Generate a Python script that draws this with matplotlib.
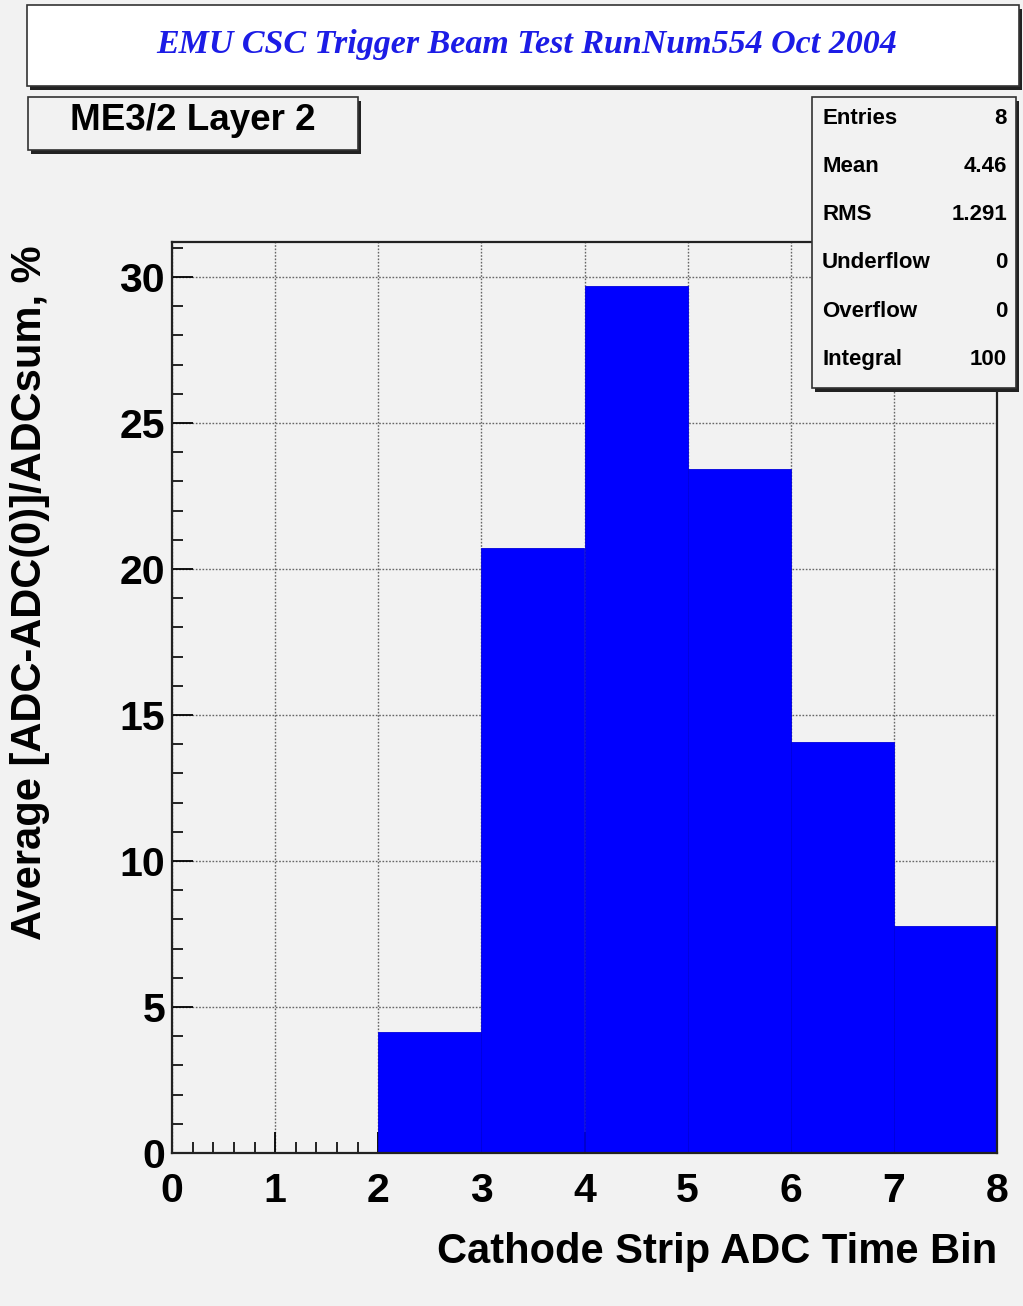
import matplotlib
matplotlib.use('Agg')
import matplotlib.pyplot as plt
from matplotlib.patches import Rectangle
from matplotlib.ticker import MultipleLocator
import numpy as np

# data
bin_edges = [0, 1, 2, 3, 4, 5, 6, 7]
bin_values = [0.0, 0.0, 4.14, 20.72, 29.70, 23.42, 14.08, 7.77]
stat_names = ['Entries', 'Mean', 'RMS', 'Underflow', 'Overflow', 'Integral']
stat_values = ['8', '4.46', '1.291', '0', '0', '100']

title = 'EMU CSC Trigger Beam Test RunNum554 Oct 2004'
pad_label = 'ME3/2 Layer 2'
xlabel = 'Cathode Strip ADC Time Bin'
ylabel = 'Average [ADC-ADC(0)]/ADCsum, %'

W, H = 1023, 1306
bg = '#f2f2f2'
sans = 'Liberation Sans'

fig = plt.figure(figsize=(W / 100, H / 100), dpi=100, facecolor=bg)


def px(x0, y0, x1, y1):
    # pixel box -> figure fraction (left, bottom, width, height)
    return x0 / W, 1 - y1 / H, (x1 - x0) / W, (y1 - y0) / H


def box(x0, y0, x1, y1, face):
    l, b, w, h = px(x0, y0, x1, y1)
    sh = Rectangle((l + 3 / W, b - 4 / H), w, h, transform=fig.transFigure,
                   facecolor='#222222', edgecolor='none', zorder=5)
    fr = Rectangle((l, b), w, h, transform=fig.transFigure,
                   facecolor=face, edgecolor='#333333', lw=1.2, zorder=6)
    fig.add_artist(sh)
    fig.add_artist(fr)


ax = fig.add_axes(px(172, 242, 997, 1153))
ax.set_facecolor(bg)

ax.bar(bin_edges, bin_values, width=1, align='edge', color='#0000ff',
       edgecolor='#0000dd', linewidth=0.6, zorder=2)

ax.set_xlim(0, 8)
ax.set_ylim(0, 31.2)
ax.xaxis.set_major_locator(MultipleLocator(1))
ax.xaxis.set_minor_locator(MultipleLocator(0.2))
ax.yaxis.set_major_locator(MultipleLocator(5))
ax.yaxis.set_minor_locator(MultipleLocator(1))
ax.set_axisbelow(True)
ax.grid(True, which='major', color='#666666', linestyle=(0, (1.2, 1.2)), linewidth=1.0)

ax.tick_params(which='major', direction='in', length=15, width=1.3,
               top=False, right=False, labelsize=29.5)
ax.tick_params(which='minor', direction='in', length=8, width=1.2,
               top=False, right=False)
ax.tick_params(axis='x', which='major', pad=14)
ax.tick_params(axis='y', which='major', pad=5)
for lab in ax.get_xticklabels() + ax.get_yticklabels():
    lab.set_fontfamily(sans)
    lab.set_fontweight('bold')
for sp in ax.spines.values():
    sp.set_linewidth(1.6)
    sp.set_color('#222222')

fig.text(997 / W, 1 - 1252 / H, xlabel, ha='right', va='center',
         fontsize=30, fontweight='bold', family=sans)
fig.text(30 / W, 1 - 593 / H, ylabel, ha='center', va='center', rotation=90,
         fontsize=30, fontweight='bold', family=sans)

# title box
box(27, 5, 1019, 86, 'white')
fig.text(527 / W, 1 - 44 / H, title, ha='center', va='center', fontsize=24.5,
         fontweight='bold', fontstyle='italic', family='Liberation Serif',
         color='#1c1ce6', zorder=7)

# pad label box
box(28, 97, 358, 150, bg)
fig.text(193 / W, 1 - 120 / H, pad_label, ha='center', va='center',
         fontsize=26.5, fontweight='bold', family=sans, zorder=7)

# stats box
box(812, 97, 1016, 388, bg)
for i, (n, v) in enumerate(zip(stat_names, stat_values)):
    y = 1 - (118 + i * 48.3) / H
    fig.text(822 / W, y, n, ha='left', va='center', fontsize=16,
             fontweight='bold', family=sans, zorder=7)
    fig.text(1007 / W, y, v, ha='right', va='center', fontsize=16,
             fontweight='bold', family=sans, zorder=7)

fig.savefig('out.png', dpi=100, facecolor=bg)
